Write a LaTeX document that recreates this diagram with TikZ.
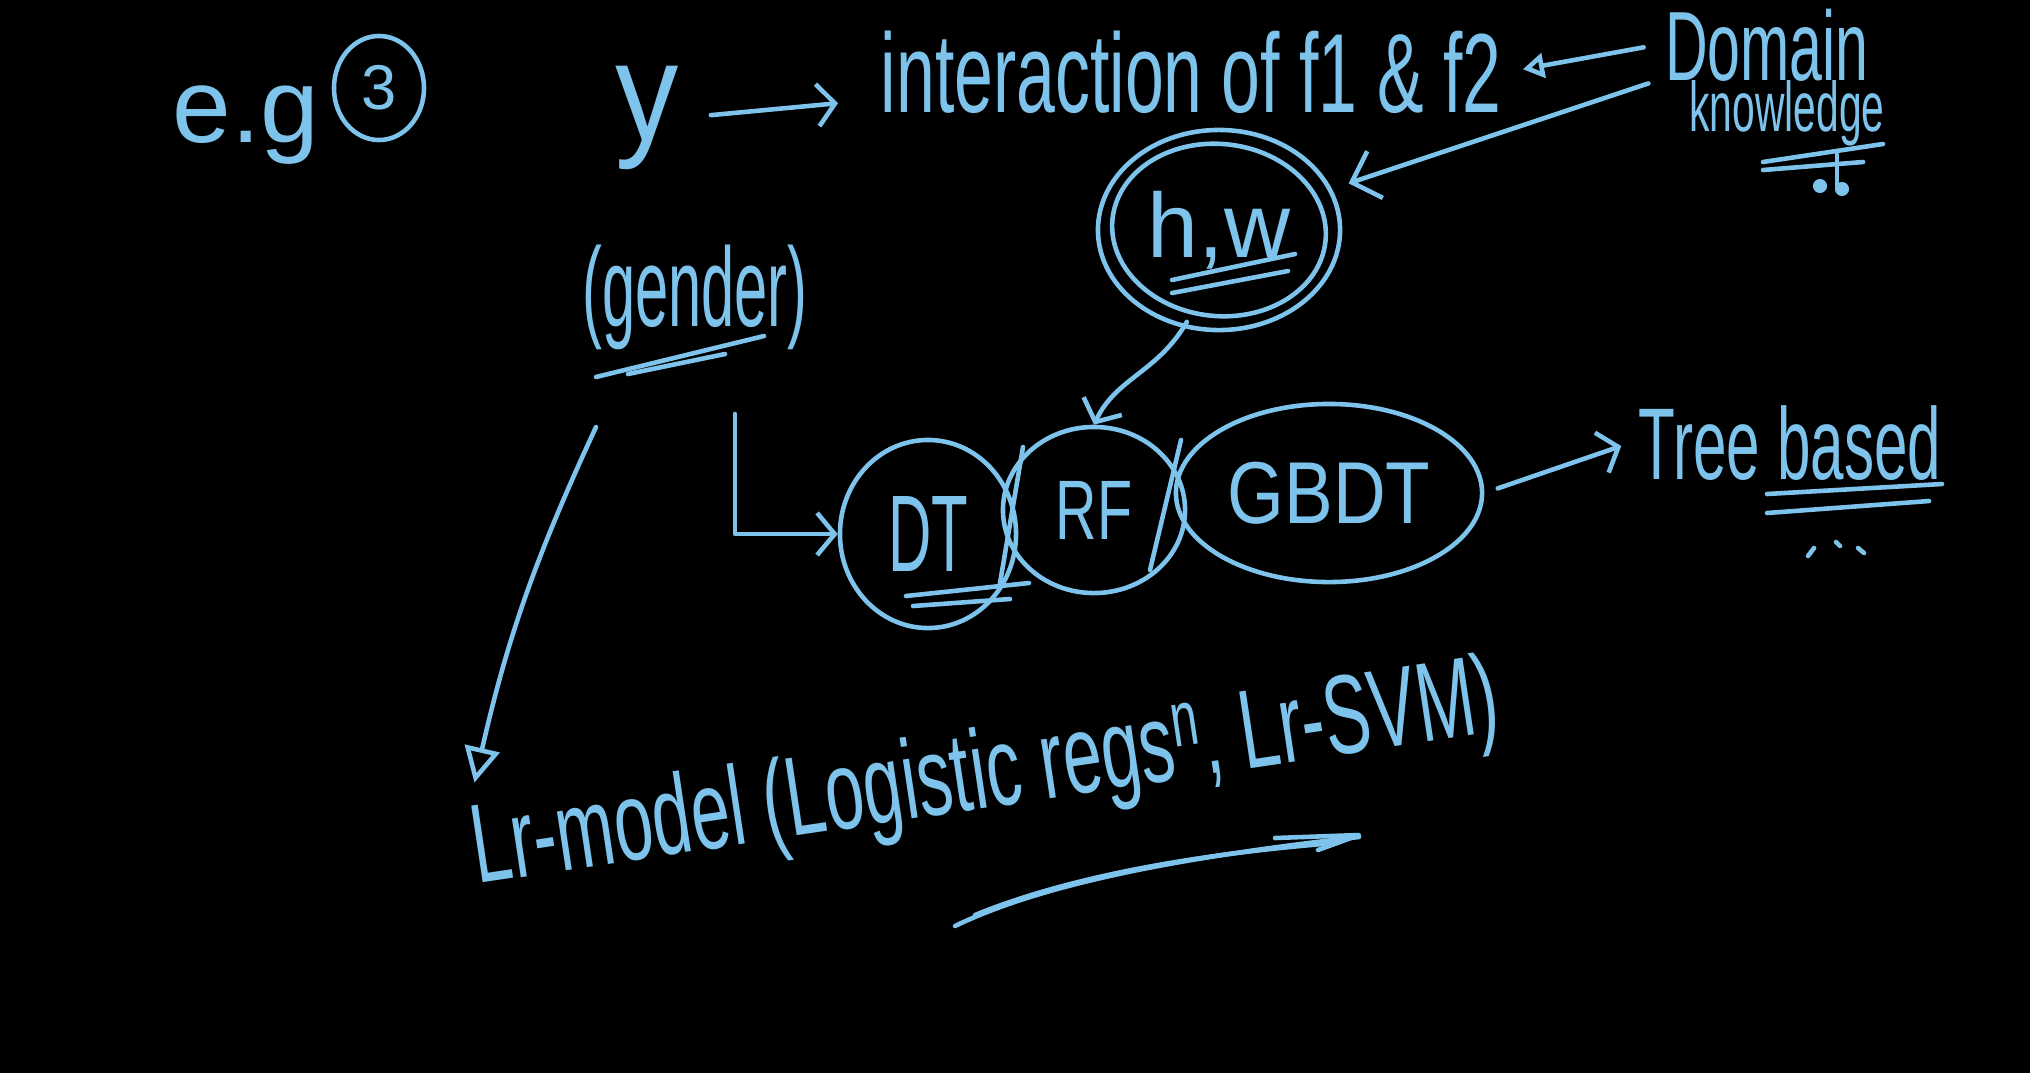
\documentclass[tikz,border=0pt]{standalone}
\usepackage{fontspec}
\setmainfont{Liberation Sans}
\usetikzlibrary{arrows.meta,shapes.geometric,calc}
\definecolor{ink}{RGB}{125,195,235}
\newcommand{\hwt}[3]{\scalebox{#1}[1]{\fontsize{#2}{#2}\selectfont #3}}
\begin{document}
\begin{tikzpicture}[x=0.01cm,y=-0.01cm,
  pen/.style={draw=ink, line width=1.3pt, line cap=round, line join=round},
  txt/.style={text=ink, inner sep=2pt},
  blob/.style={pen, ellipse, inner sep=0pt, text=ink},
  barb/.style={pen, -{Straight Barb[length=5pt,width=12pt]}},
  tri/.style={pen, -{Triangle[open,length=10pt,width=10pt]}}]
\useasboundingbox (0,0) rectangle (2030,1072);
\fill[black] (-20,-20) rectangle (2050,1092);

% top row
\node[txt, anchor=base] (eg) at (246,142) {\hwt{1}{30}{e.g}};
\node[blob, minimum width=0.9cm, minimum height=1.04cm] (three) at (379,88) {\hwt{1}{18}{3}};
\node[txt, anchor=base] (y) at (647,140) {\hwt{0.9}{40}{y}};
\node[txt, anchor=base] (inter) at (1191,112) {\hwt{0.62}{32}{interaction of f1 \& f2}};
\node[txt, anchor=base] (domain) at (1767,80) {\hwt{0.6}{28}{Domain}};
\node[txt, anchor=base] (know) at (1787,131) {\hwt{0.58}{20}{knowledge}};

% (h,w)
\node[blob, minimum width=2.42cm, minimum height=2.0cm] (hw) at (1219,230) {\hwt{1}{26}{h,w}};
\draw[pen, rotate around={-6:(hw.center)}] (hw.center) ellipse [x radius=1.07cm, y radius=0.86cm];

% gender
\node[txt, anchor=base] (gender) at (695,326) {\hwt{0.53}{32}{(gender)}};

% models
\node[blob, minimum width=1.76cm, minimum height=1.88cm] (DT) at (928,534) {\hwt{0.55}{31}{DT}};
\node[blob, minimum width=1.82cm, minimum height=1.66cm] (RF) at (1094,510) {\hwt{0.68}{24}{RF}};
\node[blob, minimum width=3.06cm, minimum height=1.78cm] (GBDT) at (1329,493) {\hwt{0.83}{25}{GBDT}};
\node[txt, anchor=base] (tree) at (1790,479) {\hwt{0.59}{29}{Tree based}};

% lr model line
\node[txt, anchor=base west, rotate=8.5] (lr) at (470,885) {\hwt{0.62}{32}{Lr-model (Logistic regs\textsuperscript{n}, Lr-SVM)}};

% connectors
\draw[barb, shorten <=7pt, shorten >=10pt] (y.east) -- ([yshift=-8pt]inter.west);
\draw[pen, -{Triangle[open,length=6pt,width=7pt]}, shorten <=4pt, shorten >=4pt] (domain.west) -- (inter.east);
\draw[pen, -{Straight Barb[length=7pt,width=14pt]}, shorten <=10pt, shorten >=5pt] (know.north west) -- (hw.20);
\draw[barb, shorten <=-2pt] (hw.250) to[out=240,in=65] (RF.north);
\coordinate (gs) at (735,414);
\draw[barb] (gs) |- (DT.west);
\coordinate (gl) at (596,427);
\draw[tri] (gl) to[bend right=6] ([xshift=5pt,yshift=4pt]lr.north west);
\draw[barb, shorten <=4pt, shorten >=3pt] (GBDT.east) -- (tree.west);

% underlines and marks
\draw[pen] (1763,162) -- (1883,144);
\draw[pen] (1763,170) -- (1863,162);
\draw[pen] (1837,154) -- (1837,186);
\fill[ink] (1820,186) circle (2pt) (1842,189) circle (2pt);
\draw[pen] (1172,280) -- (1295,254);
\draw[pen] (1172,293) -- (1288,271);
\draw[pen] (596,377) -- (764,336);
\draw[pen] (628,374) -- (725,354);
\draw[pen] (906,596) -- (1029,583);
\draw[pen] (913,606) -- (1010,599);
\draw[pen] (1023,447) -- (999,589);
\draw[pen] (1181,440) -- (1150,570);
\draw[pen] (1767,494) -- (1942,484);
\draw[pen] (1767,513) -- (1929,501);
\draw[pen] (1808,556) -- (1814,548);
\draw[pen] (1836,542) -- (1840,546);
\draw[pen] (1858,548) -- (1864,553);

% bottom double arrow
\draw[pen] (955,926) .. controls (1050,880) and (1200,855) .. (1359,837);
\draw[pen] (975,915) .. controls (1080,872) and (1220,852) .. (1335,843);
\draw[pen] (1275,838) -- (1359,835) -- (1318,850);
\end{tikzpicture}
\end{document}
